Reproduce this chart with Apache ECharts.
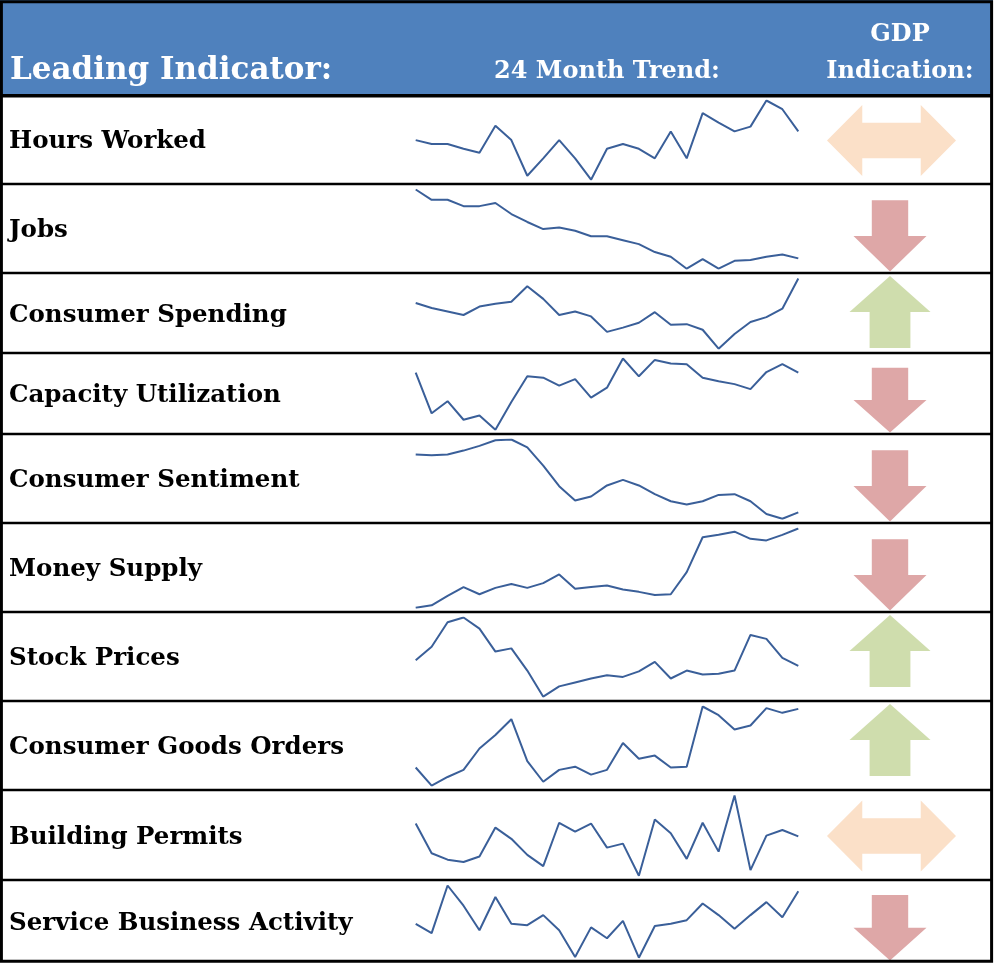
<!DOCTYPE html>
<html>
<head>
<meta charset="utf-8">
<title>Leading Indicators</title>
<script src="https://cdn.jsdelivr.net/npm/echarts@6/dist/echarts.min.js"></script>
<style>
html, body { margin: 0; padding: 0; background: #fff; }
#chart { width: 995px; height: 964px; }
</style>
</head>
<body>
<div id="chart"></div>
<script>
// 25 monthly points per indicator (relative index, 0 = low of the window, 100 = high)
MONTHS = ['M1','M2','M3','M4','M5','M6','M7','M8','M9','M10','M11','M12','M13',
	'M14','M15','M16','M17','M18','M19','M20','M21','M22','M23','M24','M25'];

INDICATORS = ['Hours Worked', 'Jobs', 'Consumer Spending', 'Capacity Utilization',
	'Consumer Sentiment', 'Money Supply', 'Stock Prices', 'Consumer Goods Orders',
	'Building Permits', 'Service Business Activity'];

HOURS_WORKED = [50, 45, 45, 39, 34, 68, 50, 5, 27, 50, 27, 0, 39, 45, 39, 27, 61, 27, 84, 72, 61, 67, 100, 89, 61];
JOBS = [100, 87, 87, 79, 79, 83, 69, 59, 50, 52, 48, 41, 41, 36, 31, 21, 15, 0, 12, 0, 10, 11, 15, 18, 13];
CONSUMER_SPENDING = [65, 58, 53, 48, 60, 64, 67, 89, 71, 48, 53, 46, 24, 30, 37, 52, 34, 35, 27, 0, 21, 38, 45, 57, 100];
CAPACITY_UTILIZATION = [80, 23, 40, 14, 20, 0, 39, 75, 73, 62, 71, 45, 59, 100, 75, 98, 93, 92, 73, 68, 64, 57, 81, 92, 80];
CONSUMER_SENTIMENT = [81, 80, 81, 86, 92, 99, 100, 90, 67, 41, 23, 28, 42, 49, 42, 31, 22, 18, 22, 30, 31, 22, 6, 0, 8];
MONEY_SUPPLY = [0, 3, 15, 26, 17, 25, 30, 25, 31, 42, 24, 26, 28, 23, 20, 16, 17, 45, 89, 92, 96, 87, 85, 92, 100];
STOCK_PRICES = [46, 63, 94, 100, 86, 57, 61, 33, 0, 13, 18, 23, 27, 25, 32, 44, 23, 33, 28, 29, 33, 78, 73, 49, 39];
CONSUMER_GOODS_ORDERS = [23, 0, 11, 20, 47, 64, 84, 31, 5, 20, 24, 14, 20, 54, 34, 38, 23, 24, 100, 89, 71, 76, 98, 92, 97];
BUILDING_PERMITS = [65, 28, 20, 17, 24, 60, 46, 26, 12, 66, 55, 65, 35, 40, 0, 70, 53, 21, 66, 30, 100, 7, 50, 57, 49];
SERVICE_BUSINESS_ACTIVITY = [47, 34, 100, 72, 38, 84, 47, 45, 59, 38, 1, 42, 27, 51, 0, 44, 47, 52, 75, 59, 40, 59, 77, 56, 92];

SERIES = [HOURS_WORKED, JOBS, CONSUMER_SPENDING, CAPACITY_UTILIZATION, CONSUMER_SENTIMENT,
	MONEY_SUPPLY, STOCK_PRICES, CONSUMER_GOODS_ORDERS, BUILDING_PERMITS, SERVICE_BUSINESS_ACTIVITY];

GDP_SIGNAL = ['flat', 'down', 'up', 'down', 'down', 'down', 'up', 'up', 'flat', 'down'];

// table layout (pixels)
ROW_EDGES = [95, 184, 273, 353, 434, 523, 612, 701, 790, 880, 962];
FONT = '"DejaVu Serif", "Liberation Serif", serif';
LINE_COLOR = '#3A5F99';

ARROWS = {
	flat: { path: 'path://M0,35.5L35,0L35,17.7L93,17.7L93,0L128,35.5L93,71L93,53.3L35,53.3L35,71Z', color: '#FBE0C8' },
	down: { path: 'path://M18.3,0L54.7,0L54.7,35L73,35L36.5,70L0,35L18.3,35Z', color: '#DEA7A7' },
	up: { path: 'path://M40.3,0L80.6,36L60.6,36L60.6,72L20,72L20,36L0,36Z', color: '#CFDDAD' }
};

function arrowSymbol(kind, y0, y1) {
	var h = y1 - y0;
	var mid = (y0 + y1) / 2;
	if (kind == 'flat') {
		return { size: [129, 71], offset: [1.5, 1] };
	}
	if (kind == 'up') {
		return { size: [81, 72], offset: [0, y0 + 3 + 36 - mid] };
	}
	var ah = h * 0.8;
	return { size: [73, ah], offset: [0, y1 - 1.5 - ah / 2 - mid] };
}

function buildOption() {
	var grids = [], xAxes = [], yAxes = [], series = [], graphics = [];

	for (var i = 0; i < INDICATORS.length; i++) {
		var y0 = ROW_EDGES[i], y1 = ROW_EDGES[i + 1];

		// sparkline cell
		grids.push({ left: 415.7, width: 382.6, top: y0 + 5.5, height: y1 - y0 - 9.8 });
		xAxes.push({ type: 'category', data: MONTHS, boundaryGap: false, show: false, gridIndex: 2 * i });
		yAxes.push({ type: 'value', show: false, gridIndex: 2 * i,
			min: Math.min.apply(null, SERIES[i]), max: Math.max.apply(null, SERIES[i]) });
		series.push({
			type: 'line', xAxisIndex: 2 * i, yAxisIndex: 2 * i,
			data: SERIES[i], symbol: 'none', silent: true,
			lineStyle: { color: LINE_COLOR, width: 2 }
		});

		// GDP indication cell
		var a = arrowSymbol(GDP_SIGNAL[i], y0, y1);
		grids.push({ left: 825, width: 130, top: y0, height: y1 - y0 });
		xAxes.push({ type: 'value', min: 0, max: 1, show: false, gridIndex: 2 * i + 1 });
		yAxes.push({ type: 'value', min: 0, max: 1, show: false, gridIndex: 2 * i + 1 });
		series.push({
			type: 'scatter', xAxisIndex: 2 * i + 1, yAxisIndex: 2 * i + 1,
			data: [[0.5, 0.5]], silent: true,
			symbol: ARROWS[GDP_SIGNAL[i]].path, symbolSize: a.size, symbolOffset: a.offset,
			itemStyle: { color: ARROWS[GDP_SIGNAL[i]].color, opacity: 1 }
		});

		// row label
		graphics.push({
			type: 'text', z: 10,
			style: { text: INDICATORS[i], x: 9, y: (y0 + y1) / 2 + 2.5,
				font: 'bold 24.5px ' + FONT, fill: '#000', verticalAlign: 'middle' }
		});

		// row separator
		if (i > 0) {
			graphics.push({ type: 'line', z: 20, shape: { x1: 0, y1: y0, x2: 993, y2: y0 },
				style: { stroke: '#000', lineWidth: 2.4 } });
		}
	}

	// header band and its titles
	graphics.push({ type: 'rect', z: 1, shape: { x: 0, y: 0, width: 993, height: 95 },
		style: { fill: '#4F81BD' } });
	graphics.push({ type: 'text', z: 10, style: { text: 'Leading Indicator:', x: 10, y: 71,
		font: 'bold 31px ' + FONT, fill: '#fff', verticalAlign: 'middle' } });
	graphics.push({ type: 'text', z: 10, style: { text: '24 Month Trend:', x: 607, y: 71.5,
		font: 'bold 24px ' + FONT, fill: '#fff', align: 'center', verticalAlign: 'middle' } });
	graphics.push({ type: 'text', z: 10, style: { text: 'GDP', x: 900, y: 34.5,
		font: 'bold 24px ' + FONT, fill: '#fff', align: 'center', verticalAlign: 'middle' } });
	graphics.push({ type: 'text', z: 10, style: { text: 'Indication:', x: 900, y: 71.5,
		font: 'bold 24px ' + FONT, fill: '#fff', align: 'center', verticalAlign: 'middle' } });
	graphics.push({ type: 'line', z: 20, shape: { x1: 0, y1: 95.8, x2: 993, y2: 95.8 },
		style: { stroke: '#000', lineWidth: 3.5 } });

	// outer frame
	graphics.push({ type: 'rect', z: 21, shape: { x: 1.4, y: 1.7, width: 990.2, height: 959.6 },
		style: { fill: 'none', stroke: '#000', lineWidth: 3 } });

	return {
		animation: false,
		backgroundColor: '#fff',
		grid: grids,
		xAxis: xAxes,
		yAxis: yAxes,
		series: series,
		graphic: graphics
	};
}

var myChart = echarts.init(document.getElementById('chart'), null, { renderer: 'canvas' });
myChart.setOption(buildOption());
</script>
</body>
</html>
